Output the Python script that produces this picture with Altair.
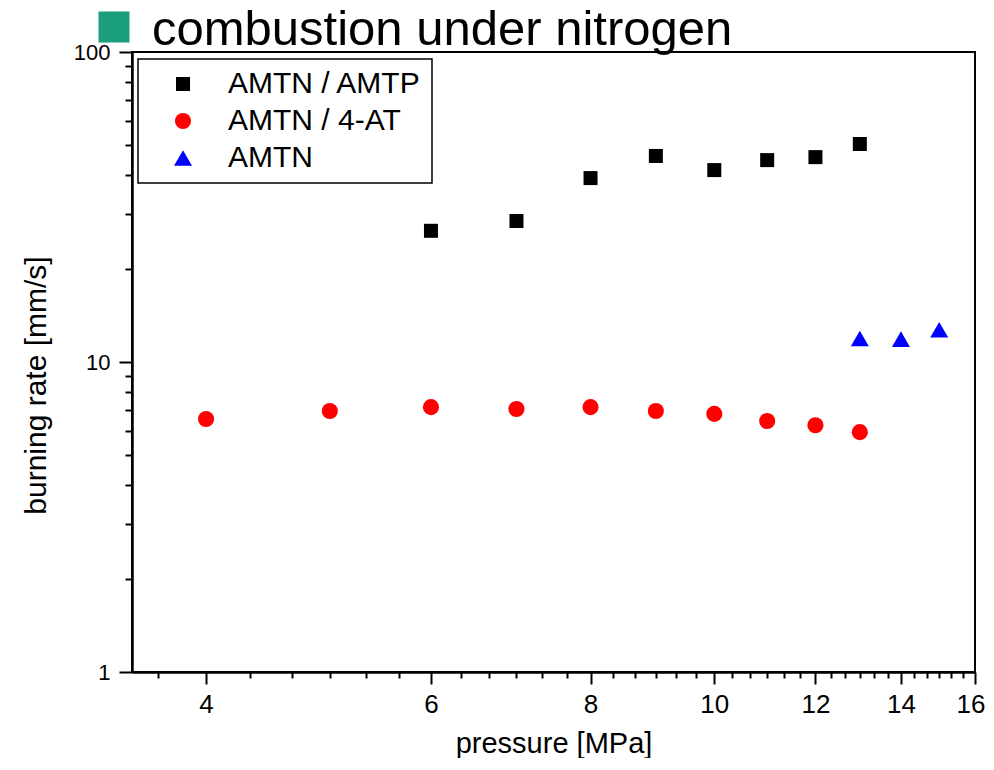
import altair as alt
import pandas as pd

# ---- data ----
TITLE_TEXT = "combustion under nitrogen"

pressure_amtp = [6, 7, 8, 9, 10, 11, 12, 13]
rate_amtp = [26.5, 28.5, 39.2, 46.2, 41.6, 44.8, 45.8, 50.5]

pressure_4at = [4, 5, 6, 7, 8, 9, 10, 11, 12, 13]
rate_4at = [6.55, 6.95, 7.15, 7.05, 7.15, 6.95, 6.8, 6.45, 6.25, 5.94]

pressure_amtn = [13, 14, 15]
rate_amtn = [11.9, 11.85, 12.7]

series_names = ["AMTN / AMTP", "AMTN / 4-AT", "AMTN"]
series_colors = ["#000000", "#ff0000", "#0000ff"]
series_shapes = ["square", "circle", "triangle-up"]

x_major = [4, 6, 8, 10, 12, 14, 16]
x_minor = [3.6667, 4.3333, 4.6667, 5, 5.3333, 5.6667, 6.3333, 6.6667, 7, 7.3333,
           7.6667, 8.3333, 8.6667, 9, 9.3333, 9.6667, 10.3333, 10.6667, 11,
           11.3333, 11.6667, 12.3333, 12.6667, 13, 13.3333, 13.6667, 14.3333,
           14.6667, 15, 15.3333, 15.6667]
y_major = [1, 10, 100]
y_minor = [2, 3, 4, 5, 6, 7, 8, 9, 20, 30, 40, 50, 60, 70, 80, 90]

x_domain = [3.5, 16]
y_domain = [1, 100]

# ---- table ----
rows = []
for name, xs, ys in zip(series_names,
                        [pressure_amtp, pressure_4at, pressure_amtn],
                        [rate_amtp, rate_4at, rate_amtn]):
    for x, y in zip(xs, ys):
        rows.append({"series": name, "pressure": x, "rate": y})
df = pd.DataFrame(rows)

FONT = "Liberation Sans, Arial, sans-serif"
NARROW = "Liberation Sans Narrow, Arial Narrow, Liberation Sans, sans-serif"

xscale = alt.Scale(type="log", domain=x_domain, nice=False, zero=False)
yscale = alt.Scale(type="log", domain=y_domain, nice=False, zero=False)

legend = alt.Legend(
    title=None, orient="none", legendX=6, legendY=7,
    strokeColor="black", fillColor="white",
    padding=10, labelFont=FONT, labelFontSize=30, labelColor="black",
    symbolSize=200, symbolOffset=20, labelOffset=30, rowPadding=7,
    symbolStrokeWidth=0, labelLimit=400,
)

x_axis_major = alt.Axis(
    orient="bottom", values=x_major, ticks=True, tickSize=12, tickWidth=2, tickColor="black",
    domainColor="black", domainWidth=2, grid=False,
    labelFont=NARROW, labelFontSize=26, labelColor="black", labelPadding=7,
    labelFlush=True, labelFlushOffset=10, labelOverlap=False,
    labelExpr="format(datum.value, 'd')",
    title="pressure [MPa]", titleFont=FONT, titleFontSize=29, titleFontWeight="normal",
    titleColor="black", titleY=80, titleBaseline="alphabetic",
)
y_axis_major = alt.Axis(
    orient="left", values=y_major, ticks=True, tickSize=13, tickWidth=2, tickColor="black",
    domainColor="black", domainWidth=2, grid=False,
    labelFont=FONT, labelFontSize=22, labelColor="black", labelPadding=9,
    labelFlush=False, labelOverlap=False, labelExpr="format(datum.value, 'd')",
    title="burning rate [mm/s]", titleFont=FONT, titleFontSize=30, titleFontWeight="normal",
    titleColor="black", titleX=-87, titleY=333, titleBaseline="alphabetic", titleAlign="center",
)
x_axis_minor = alt.Axis(
    orient="bottom", values=x_minor, ticks=True, tickSize=6, tickWidth=2, tickColor="black",
    domainColor="black", domainWidth=2, grid=False, labels=False, title=None,
)
y_axis_minor = alt.Axis(
    orient="left", values=y_minor, ticks=True, tickSize=7, tickWidth=2, tickColor="black",
    domainColor="black", domainWidth=2, grid=False, labels=False, title=None,
)

points = alt.Chart(df).mark_point(filled=True, opacity=1).encode(
    x=alt.X("pressure:Q", scale=xscale, axis=x_axis_major),
    y=alt.Y("rate:Q", scale=yscale, axis=y_axis_major),
    color=alt.Color("series:N", scale=alt.Scale(domain=series_names, range=series_colors), legend=legend),
    shape=alt.Shape("series:N", scale=alt.Scale(domain=series_names, range=series_shapes), legend=legend),
    size=alt.Size("series:N", scale=alt.Scale(domain=series_names, range=[196, 324]), legend=None),
)

minor = alt.Chart(df).mark_point(opacity=0, size=1).encode(
    x=alt.X("pressure:Q", scale=xscale, axis=x_axis_minor),
    y=alt.Y("rate:Q", scale=yscale, axis=y_axis_minor),
)

one_row = alt.Data(values=[{"k": 1}])
title_square = alt.Chart(one_row).mark_square(size=961, color="#1b9e7b", opacity=1).encode(
    x=alt.value(-18), y=alt.value(-25)
)
title_text = alt.Chart(one_row).mark_text(
    align="left", baseline="alphabetic", font=FONT, fontSize=49, color="black"
).encode(x=alt.value(20), y=alt.value(-7), text=alt.value(TITLE_TEXT))

chart = alt.layer(minor, points, title_square, title_text).resolve_axis(
    x="independent", y="independent"
).properties(
    width=843, height=620,
    padding={"left": 124, "top": 44, "right": 11, "bottom": 86},
    autosize=alt.AutoSizeParams(type="none"),
    background="white",
).configure_view(stroke="black", strokeWidth=2).configure_legend(strokeWidth=1.5)

chart.save("out.html", embed_options={"renderer": "svg", "actions": False})
